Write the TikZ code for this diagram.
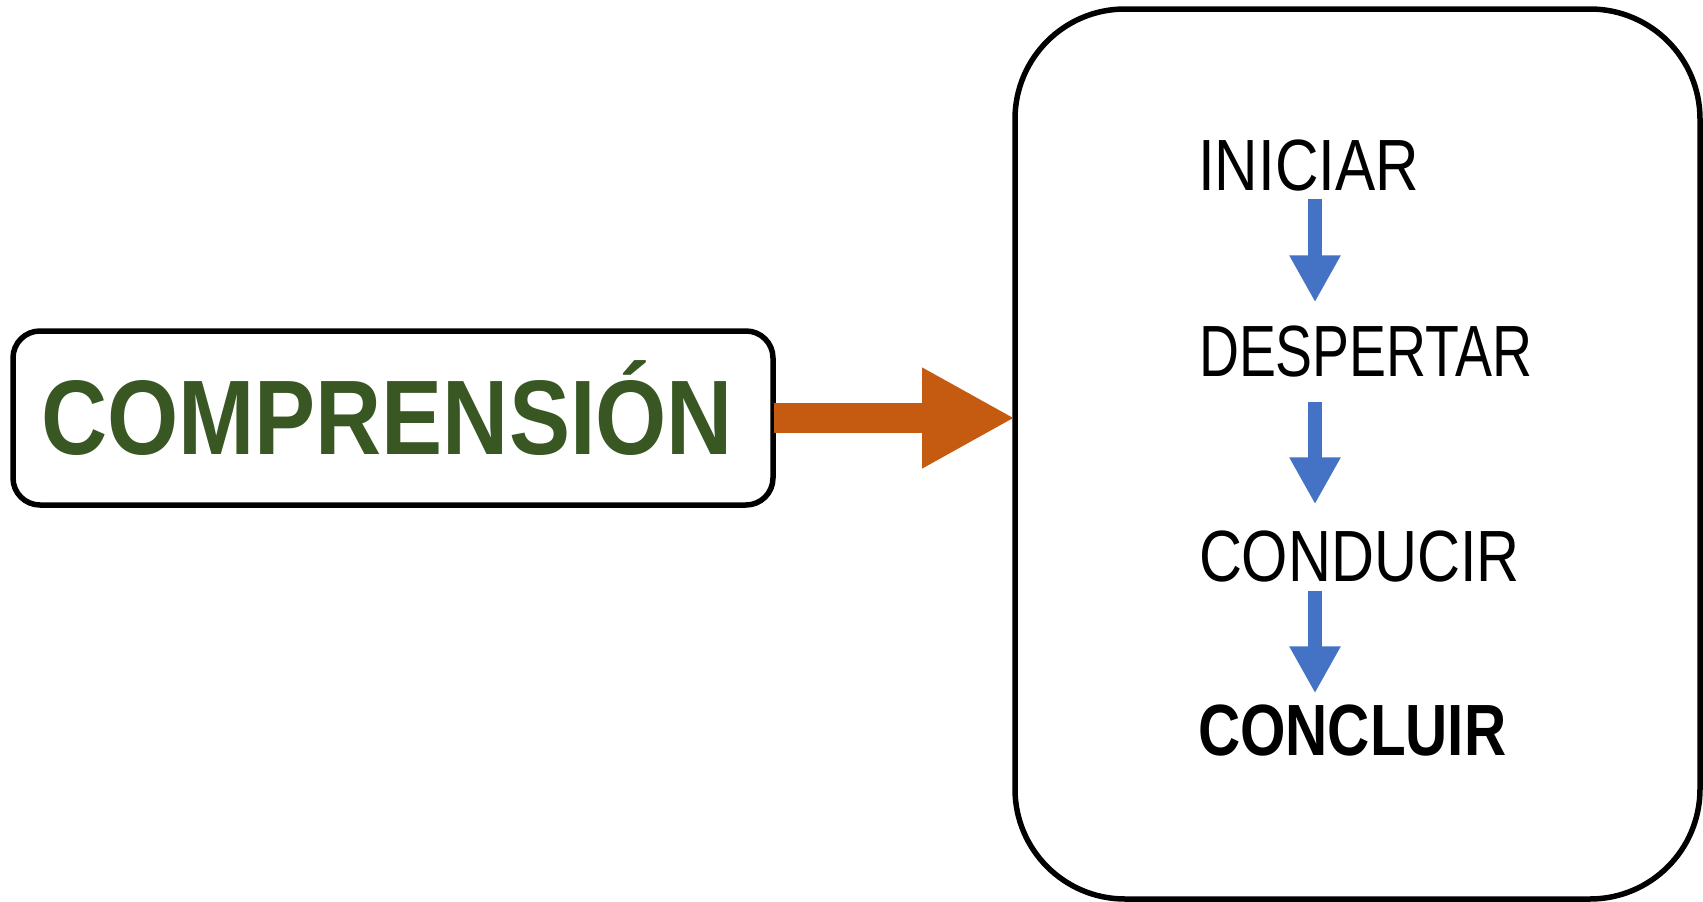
\documentclass[tikz,border=0pt]{standalone}
\usepackage{graphicx}
\usepackage{fontspec}
\setmainfont{Liberation Sans}
\usetikzlibrary{arrows.meta,calc}
\definecolor{compgreen}{HTML}{385723}
\definecolor{arrorange}{HTML}{C55A11}
\definecolor{arrblue}{HTML}{4472C4}
\tikzset{
  boxframe/.style={draw=black,line width=5.5pt,rectangle,inner sep=0pt,outer sep=0pt},
  word/.style={inner sep=0pt,outer sep=0pt,anchor=base west,font=\fontsize{72.6pt}{80pt}\selectfont},
  bigarrow/.style={arrorange,line width=30pt,-{Triangle[width=94pt,length=93pt]}},
  stepsarrow/.style={arrblue,line width=14pt,-{Triangle[width=48pt,length=47pt]}}
}
\begin{document}
\begin{tikzpicture}[x=1pt,y=-1pt]
\useasboundingbox (0,0) rectangle (1703,902);
% boxes
\node[boxframe,rounded corners=27pt,minimum width=760pt,minimum height=174pt] (lbox) at (393,418) {};
\node[boxframe,rounded corners=110pt,minimum width=685pt,minimum height=890pt] (rbox) at (1357.5,454) {};
% main label
\node[inner sep=0pt,outer sep=0pt,anchor=base west,text=compgreen,font=\fontsize{106pt}{110pt}\selectfont\bfseries] (comp) at (41,454) {\scalebox{0.864}[1]{COMPRENSIÓN}};
% steps
\node[word] (ini) at (1198,190) {\scalebox{0.83}[1]{INICIAR}};
\node[word] (desp) at (1199,376) {\scalebox{0.763}[1]{DESPERTAR}};
\node[word] (cond) at (1199,581) {\scalebox{0.82}[1]{CONDUCIR}};
\node[word,font=\fontsize{72.6pt}{80pt}\selectfont\bfseries] (concl) at (1198,755) {\scalebox{0.805}[1]{CONCLUIR}};
% arrows
\draw[bigarrow] ([xshift=1pt]lbox.east) -- (rbox.west |- lbox.east);
\coordinate (ax) at (1315,0);
\draw[stepsarrow] ($(ini.base -| ax)+(0,9)$) -- ($(desp.north -| ax)+(0,-23)$);
\draw[stepsarrow] ($(desp.base -| ax)+(0,26)$) -- ($(cond.north -| ax)+(0,-26)$);
\draw[stepsarrow] ($(cond.base -| ax)+(0,10)$) -- ($(concl.north -| ax)+(0,-11)$);
\end{tikzpicture}
\end{document}
